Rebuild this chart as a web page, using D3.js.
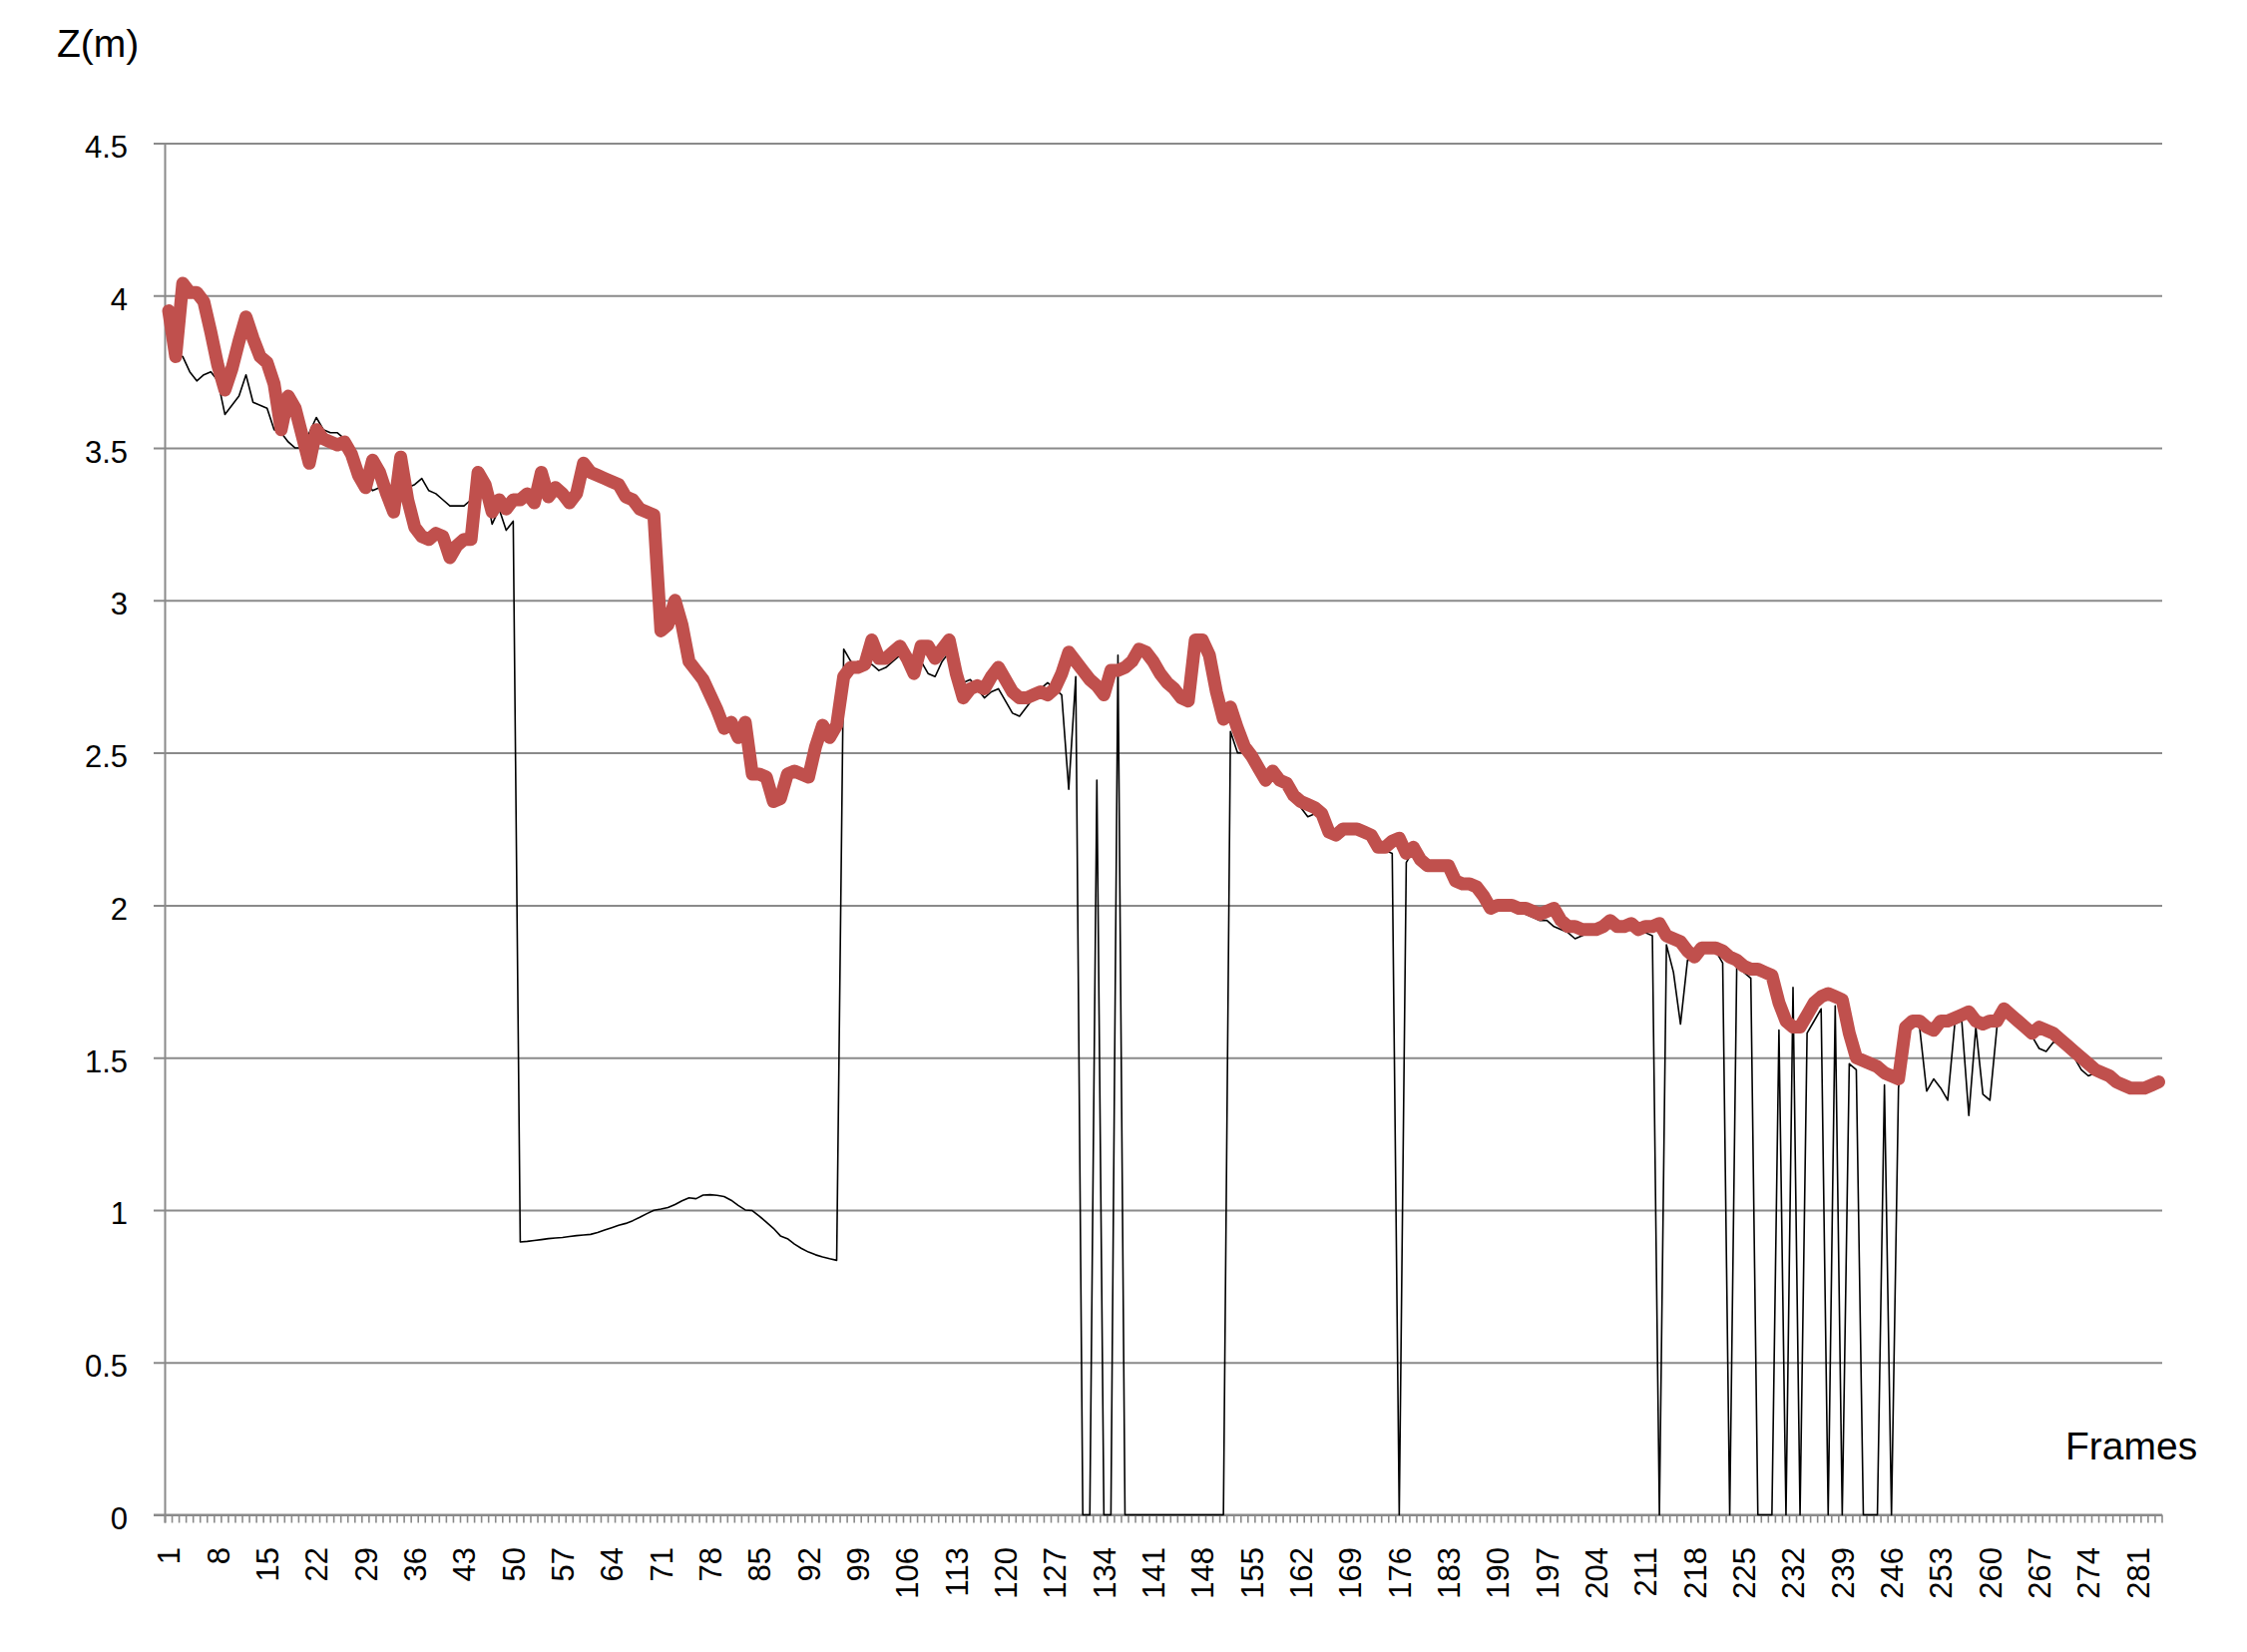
<!DOCTYPE html>
<html>
<head>
<meta charset="utf-8">
<script src="https://cdn.jsdelivr.net/npm/d3@7/dist/d3.min.js"></script>
<style>
html,body{margin:0;padding:0;background:#fff;}
svg{display:block;}
text{font-family:"Liberation Sans",Arial,sans-serif;fill:#000;}
</style>
</head>
<body>
<svg id="chart" width="2252" height="1656"></svg>
<script>
// ---------- DATA ----------
const frames = d3.range(1, 285); // frame numbers 1..284
const xTickLabels = [1,8,15,22,29,36,43,50,57,64,71,78,85,92,99,106,113,120,127,134,141,148,155,162,169,176,183,190,197,204,211,218,225,232,239,246,253,260,267,274,281];
const yTicks = [0,0.5,1,1.5,2,2.5,3,3.5,4,4.5];
const yTickLabels = ["0","0.5","1","1.5","2","2.5","3","3.5","4","4.5"];

// thick red series (filtered Z)
const filteredZ = [
3.95,3.80,4.04,4.01,4.01,3.98,3.88,3.77,3.69,3.76,
3.85,3.93,3.86,3.80,3.78,3.71,3.56,3.67,3.63,3.54,
3.45,3.56,3.53,3.52,3.51,3.52,3.48,3.41,3.37,3.46,
3.42,3.35,3.29,3.47,3.33,3.24,3.21,3.20,3.22,3.21,
3.14,3.18,3.20,3.20,3.42,3.38,3.29,3.33,3.30,3.33,
3.33,3.35,3.32,3.42,3.34,3.37,3.35,3.32,3.35,3.45,
3.42,3.41,3.40,3.39,3.38,3.34,3.33,3.30,3.29,3.28,
2.90,2.92,3.00,2.92,2.80,2.77,2.74,2.69,2.64,2.58,
2.60,2.55,2.60,2.43,2.43,2.42,2.34,2.35,2.43,2.44,
2.43,2.42,2.52,2.59,2.55,2.59,2.75,2.78,2.78,2.79,
2.87,2.81,2.81,2.83,2.85,2.81,2.76,2.85,2.85,2.81,
2.84,2.87,2.76,2.68,2.71,2.72,2.71,2.75,2.78,2.74,
2.70,2.68,2.68,2.69,2.70,2.69,2.71,2.76,2.83,2.80,
2.77,2.74,2.72,2.69,2.77,2.77,2.78,2.80,2.84,2.83,
2.80,2.76,2.73,2.71,2.68,2.67,2.87,2.87,2.82,2.70,
2.61,2.65,2.58,2.52,2.49,2.45,2.41,2.44,2.41,2.40,
2.36,2.34,2.33,2.32,2.30,2.24,2.23,2.25,2.25,2.25,
2.24,2.23,2.19,2.19,2.21,2.22,2.17,2.19,2.15,2.13,
2.13,2.13,2.13,2.08,2.07,2.07,2.06,2.03,1.99,2.00,
2.00,2.00,1.99,1.99,1.98,1.97,1.98,1.99,1.95,1.93,
1.93,1.92,1.92,1.92,1.93,1.95,1.93,1.93,1.94,1.92,
1.93,1.93,1.94,1.90,1.89,1.88,1.85,1.83,1.86,1.86,
1.86,1.85,1.83,1.82,1.80,1.79,1.79,1.78,1.77,1.68,
1.62,1.60,1.60,1.64,1.68,1.70,1.71,1.70,1.69,1.58,
1.50,1.49,1.48,1.47,1.45,1.44,1.43,1.60,1.62,1.62,
1.60,1.59,1.62,1.62,1.63,1.64,1.65,1.62,1.61,1.62,
1.62,1.66,1.64,1.62,1.60,1.58,1.60,1.59,1.58,1.56,
1.54,1.52,1.50,1.48,1.46,1.45,1.44,1.42,1.41,1.40,
1.40,1.40,1.41,1.42
];

// thin black series (raw Z)
const rawZ = [
3.92,3.80,3.80,3.75,3.72,3.74,3.75,3.72,3.61,3.64,
3.67,3.74,3.65,3.64,3.63,3.56,3.55,3.52,3.50,3.50,
3.55,3.60,3.56,3.55,3.55,3.53,3.48,3.44,3.39,3.36,
3.37,3.36,3.36,3.36,3.37,3.38,3.40,3.36,3.35,3.33,
3.31,3.31,3.31,3.33,3.40,3.37,3.25,3.30,3.23,3.26,
0.895,0.897,0.900,0.903,0.906,0.908,0.910,0.913,0.916,0.918,
0.920,0.926,0.934,0.942,0.950,0.956,0.965,0.976,0.988,0.999,
1.003,1.008,1.018,1.030,1.040,1.037,1.049,1.050,1.048,1.044,
1.032,1.015,1.000,0.998,0.980,0.960,0.940,0.915,0.906,0.888,
0.874,0.862,0.853,0.846,0.840,0.835,2.84,2.80,2.78,2.78,
2.79,2.77,2.78,2.80,2.82,2.80,2.78,2.80,2.76,2.75,
2.80,2.83,2.76,2.73,2.74,2.71,2.68,2.70,2.71,2.67,
2.63,2.62,2.65,2.68,2.71,2.73,2.71,2.69,2.38,2.75,
0,0,2.41,0,0,2.82,0,0,0,0,
0,0,0,0,0,0,0,0,0,0,
0,2.57,2.50,2.50,2.48,2.43,2.40,2.42,2.40,2.38,
2.35,2.32,2.29,2.30,2.29,2.24,2.22,2.24,2.24,2.24,
2.23,2.21,2.18,2.18,2.17,0,2.14,2.18,2.14,2.12,
2.12,2.12,2.12,2.07,2.06,2.06,2.05,2.02,1.99,1.99,
1.99,1.99,1.98,1.97,1.96,1.95,1.95,1.93,1.92,1.91,
1.89,1.90,1.91,1.91,1.92,1.94,1.92,1.92,1.93,1.92,
1.91,1.90,0,1.87,1.78,1.61,1.82,1.82,1.84,1.85,
1.85,1.81,0,1.80,1.78,1.76,0,0,0,1.59,
0,1.73,0,1.58,1.62,1.66,0,1.67,0,1.48,
1.46,0,0,0,1.41,0,1.40,1.62,1.63,1.60,
1.39,1.43,1.40,1.36,1.61,1.62,1.31,1.60,1.38,1.36,
1.60,1.64,1.62,1.60,1.58,1.57,1.53,1.52,1.55,1.55,
1.53,1.50,1.46,1.44,1.45,1.44,1.43,1.41,1.40,1.39,
1.39,1.39,1.40,1.41
];

// ---------- LAYOUT ----------
const W = 2252, H = 1656;
const plotLeft = 165.5, plotRight = 2167, plotTop = 143.5, plotBottom = 1518.5;
const gridColor = "#8a8a8a";

const svg = d3.select("#chart");
svg.append("rect").attr("width", W).attr("height", H).attr("fill", "#fff");

const x = d3.scalePoint().domain(frames).range([plotLeft, plotRight]).padding(0.5);
const y = d3.scaleLinear().domain([0, 4.5]).range([plotBottom, plotTop]);

// horizontal gridlines + y axis
const yAxis = d3.axisLeft(y).tickValues(yTicks)
  .tickFormat((d, i) => yTickLabels[i])
  .tickSize(-(plotRight - plotLeft)).tickPadding(37.5);
const gy = svg.append("g").attr("transform", `translate(${plotLeft},0)`).call(yAxis);
gy.select(".domain").remove();
gy.selectAll(".tick line").attr("stroke", gridColor).attr("stroke-width", 2)
  .attr("x1", -11.5);
gy.selectAll(".tick text").attr("font-size", 31).attr("dy", "0.45em")
  .style("font-family", '"Liberation Sans", Arial, sans-serif');

// y axis line
svg.append("line").attr("x1", plotLeft).attr("x2", plotLeft)
  .attr("y1", plotTop).attr("y2", plotBottom + 8)
  .attr("stroke", gridColor).attr("stroke-width", 2);

// x axis line
svg.append("line").attr("x1", plotLeft - 11.5).attr("x2", plotRight)
  .attr("y1", plotBottom).attr("y2", plotBottom)
  .attr("stroke", gridColor).attr("stroke-width", 2);

// x tick comb at category boundaries
const step = x.step();
const boundaries = d3.range(frames.length + 1).map(i => x(frames[0]) - step / 2 + i * step);
svg.append("g").selectAll("line").data(boundaries).join("line")
  .attr("x1", d => d).attr("x2", d => d)
  .attr("y1", plotBottom).attr("y2", plotBottom + 8)
  .attr("stroke", gridColor).attr("stroke-width", 1.6);

// x tick labels via axis
const xAxis = d3.axisBottom(x).tickValues(xTickLabels).tickSize(0).tickPadding(0);
const gx = svg.append("g").attr("transform", `translate(0,${plotBottom})`).call(xAxis);
gx.select(".domain").remove();
gx.selectAll(".tick text")
  .attr("font-size", 31)
  .style("font-family", '"Liberation Sans", Arial, sans-serif')
  .attr("text-anchor", "end")
  .attr("transform", "rotate(-90)")
  .attr("x", -32.5).attr("y", 0).attr("dy", "0.35em");

// series lines
const line = d3.line().x((d, i) => x(frames[i])).y(d => y(d));

svg.append("path").datum(rawZ)
  .attr("d", line).attr("fill", "none")
  .attr("stroke", "#000").attr("stroke-width", 1.6)
  .attr("stroke-linejoin", "round");

svg.append("path").datum(filteredZ)
  .attr("d", line).attr("fill", "none")
  .attr("stroke", "#c0504d").attr("stroke-width", 13)
  .attr("stroke-linejoin", "round").attr("stroke-linecap", "round");

// axis titles
svg.append("text").attr("x", 57).attr("y", 57).attr("font-size", 39).text("Z(m)");
svg.append("text").attr("x", 2070).attr("y", 1463).attr("font-size", 39).text("Frames");
</script>
</body>
</html>
